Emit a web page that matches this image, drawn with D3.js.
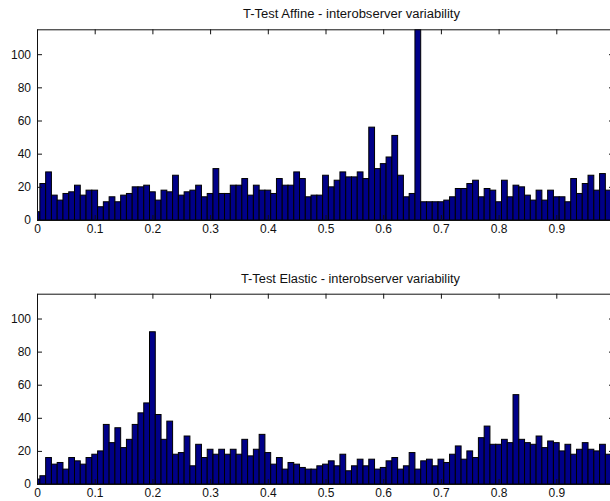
<!DOCTYPE html>
<html>
<head>
<meta charset="utf-8">
<script src="https://cdn.jsdelivr.net/npm/d3@7"></script>
<style>
  html, body { margin: 0; padding: 0; background: #fff; overflow: hidden; }
  svg { display: block; }
  text { font-family: "Liberation Sans", Arial, sans-serif; }
</style>
</head>
<body>
<svg id="chart" width="610" height="501"></svg>
<script>
// Bin centres 0, 0.01, ..., 1.00 (101 bins)
const binCenters = d3.range(101).map(i => +(i / 100).toFixed(2));

const titleAffine = "T-Test Affine - interobserver variability";
const titleElastic = "T-Test Elastic - interobserver variability";

const affineCounts = [
  5, 22, 29, 15, 12, 16, 17, 21, 15, 18,
  18, 8, 11, 14, 11, 15, 16, 20, 20, 21,
  17, 12, 18, 17, 27, 15, 17, 18, 21, 14,
  16, 31, 16, 16, 21, 21, 25, 15, 21, 18,
  18, 16, 25, 21, 21, 29, 25, 14, 15, 15,
  27, 20, 24, 29, 26, 26, 29, 25, 56, 31,
  34, 38, 51, 27, 14, 16, 115, 11, 11, 11,
  11, 12, 14, 19, 19, 22, 24, 14, 19, 18,
  11, 24, 14, 21, 20, 15, 12, 18, 12, 18,
  14, 14, 11, 25, 16, 22, 27, 18, 28, 18,
  18
];

const elasticCounts = [
  3, 5, 16, 12, 13, 9, 16, 14, 12, 16,
  18, 20, 36, 25, 34, 22, 27, 36, 43, 49,
  92, 42, 27, 38, 18, 19, 29, 11, 24, 16,
  21, 18, 21, 18, 21, 18, 27, 17, 21, 30,
  19, 12, 16, 9, 13, 12, 10, 9, 9, 11,
  12, 14, 11, 18, 8, 11, 15, 11, 15, 9,
  10, 14, 16, 9, 11, 19, 9, 14, 15, 11,
  15, 13, 18, 23, 15, 20, 16, 28, 35, 24,
  24, 27, 25, 54, 27, 25, 24, 29, 22, 26,
  25, 20, 24, 18, 21, 25, 21, 20, 24, 18,
  20
];

const xTicks = [0, 0.1, 0.2, 0.3, 0.4, 0.5, 0.6, 0.7, 0.8, 0.9, 1];
const xTickLabels = ["0", "0.1", "0.2", "0.3", "0.4", "0.5", "0.6", "0.7", "0.8", "0.9", ""];
const yTicks = [0, 20, 40, 60, 80, 100];
const yMax = 115;
const binWidth = 0.01;

const svg = d3.select("#chart");

function drawPanel(opts) {
  const { top, bottom, title, titleX, titleY, titleLen, counts, id } = opts;
  const left = 37, right = 614;
  const x = d3.scaleLinear().domain([0, 1]).range([left, right]);
  const y = d3.scaleLinear().domain([0, yMax]).range([bottom, top]);

  const g = svg.append("g");

  g.append("clipPath").attr("id", "clip" + id)
    .append("rect")
    .attr("x", left).attr("y", top)
    .attr("width", right - left).attr("height", bottom - top);

  const data = binCenters.map((c, i) => ({ c, v: counts[i] }));

  g.append("g").attr("clip-path", `url(#clip${id})`)
    .selectAll("rect").data(data).enter().append("rect")
    .attr("x", d => x(d.c - binWidth / 2))
    .attr("width", d => x(d.c + binWidth / 2) - x(d.c - binWidth / 2))
    .attr("y", d => y(Math.min(d.v, yMax)))
    .attr("height", d => y(0) - y(Math.min(d.v, yMax)))
    .attr("fill", "#000088")
    .attr("stroke", "#000")
    .attr("stroke-width", 1);

  // Axes with inward ticks
  const axB = g.append("g").attr("transform", `translate(0,${bottom})`)
    .call(d3.axisBottom(x).tickValues(xTicks).tickFormat((d, i) => xTickLabels[i])
      .tickSizeInner(-5).tickSizeOuter(0).tickPadding(4));
  const axT = g.append("g").attr("transform", `translate(0,${top})`)
    .call(d3.axisTop(x).tickValues(xTicks).tickFormat("").tickSizeInner(-5).tickSizeOuter(0));
  const axL = g.append("g").attr("transform", `translate(${left},0)`)
    .call(d3.axisLeft(y).tickValues(yTicks).tickSizeInner(-5).tickSizeOuter(0).tickPadding(6));
  const axR = g.append("g").attr("transform", `translate(${right},0)`)
    .call(d3.axisRight(y).tickValues(yTicks).tickFormat("").tickSizeInner(-5).tickSizeOuter(0));

  [axB, axT, axL, axR].forEach(a => {
    a.selectAll("path.domain").attr("stroke", "#111").attr("stroke-width", 1);
    a.selectAll(".tick line").attr("stroke", "#111");
    a.selectAll(".tick text").attr("fill", "#111").style("font-size", "12px")
      .style("font-family", "'Liberation Sans', Arial, sans-serif");
  });

  g.append("text")
    .attr("x", titleX).attr("y", titleY)
    .attr("text-anchor", "middle")
    .attr("textLength", titleLen)
    .attr("lengthAdjust", "spacingAndGlyphs")
    .style("font-size", "12px")
    .attr("fill", "#111")
    .text(title);
}

drawPanel({ id: 1, top: 29.3, bottom: 220, title: titleAffine, titleX: 351.5, titleY: 18.3, titleLen: 217, counts: affineCounts });
drawPanel({ id: 2, top: 293.7, bottom: 484, title: titleElastic, titleX: 350.5, titleY: 282.7, titleLen: 219, counts: elasticCounts });
</script>
</body>
</html>
